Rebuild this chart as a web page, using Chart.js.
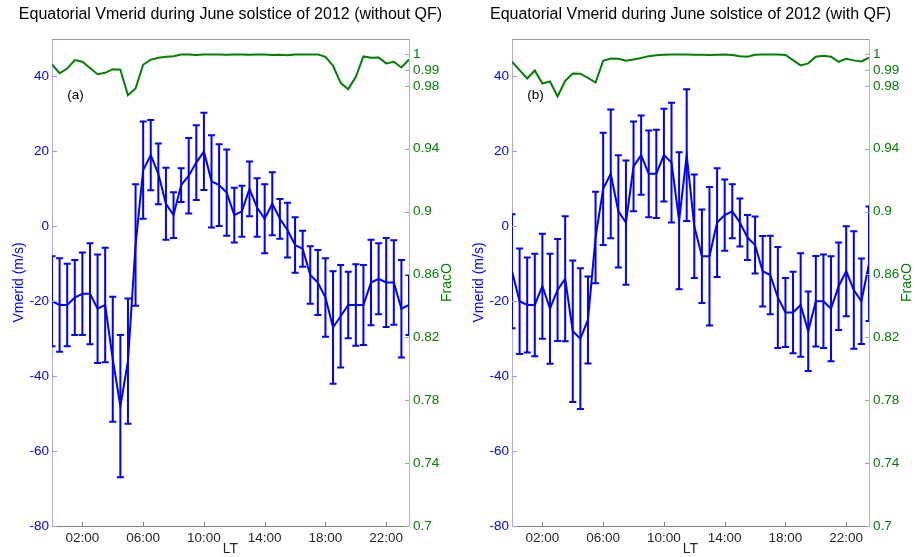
<!DOCTYPE html>
<html>
<head>
<meta charset="utf-8">
<script src="https://cdn.jsdelivr.net/npm/chart.js@4.4.0/dist/chart.umd.min.js"></script>
<style>
  html, body { margin: 0; padding: 0; background: #fff; }
  #wrap { position: relative; width: 915px; height: 557px; overflow: hidden; }
  canvas { position: absolute; top: 0; }
  #panelA { left: 0; }
  #panelB { left: 457px; }
</style>
</head>
<body>
<div id="wrap">
  <canvas id="panelA" width="457" height="557"></canvas>
  <canvas id="panelB" width="458" height="557"></canvas>
</div>
<script>
// Local time of each half-hourly bin (hours)
const LT = [0, 0.5, 1, 1.5, 2, 2.5, 3, 3.5, 4, 4.5, 5, 5.5,
            6, 6.5, 7, 7.5, 8, 8.5, 9, 9.5, 10, 10.5, 11, 11.5,
            12, 12.5, 13, 13.5, 14, 14.5, 15, 15.5, 16, 16.5, 17, 17.5,
            18, 18.5, 19, 19.5, 20, 20.5, 21, 21.5, 22, 22.5, 23, 23.5];

// Meridional wind (m/s) and its standard deviation, without QF filtering
const VMERID_NOQF = [-20, -21, -21, -19, -18, -18, -22, -21, -35.5, -48, -36, -5,
                     15, 19, 14, 6, 3, 11, 13.5, 17, 20, 12, 11, 9,
                     3, 4, 10, 5, 2, 6, 2, -1, -5, -6, -13, -15,
                     -19, -27, -24, -21, -21, -21, -15, -14, -15, -15, -22, -21];
const ERR_NOQF = [12, 12.5, 11, 10, 11, 13.5, 14.5, 15.3, 16.7, 19, 16.7, 16.2,
                  13, 9.4, 8.1, 9.6, 6.1, 4.5, 10.1, 10, 10.3, 12.3, 10.9, 11.5,
                  7.3, 6.8, 7.3, 7.8, 9.2, 8.4, 5.3, 7.3, 7.4, 4.8, 7.7, 8.7,
                  10.5, 15, 13.7, 8.9, 10.9, 10.7, 11.4, 9.5, 11.9, 11.3, 13, 8];
// Oxygen ion fraction, without QF filtering
const FRACO_NOQF = [0.9936, 0.988, 0.991, 0.9964, 0.9953, 0.9913, 0.9874, 0.9883, 0.9906, 0.9902, 0.974, 0.9783,
                    0.9934, 0.9966, 0.9979, 0.9985, 0.9989, 1.0, 1.0, 0.9996, 1.0, 1.0, 1.0, 0.9998,
                    1.0, 1.0, 0.9998, 1.0, 1.0, 0.9996, 0.9998, 0.9994, 1.0, 1.0, 1.0, 1.0,
                    0.9985, 0.9928, 0.9819, 0.9779, 0.9857, 0.9987, 0.9979, 0.9981, 0.9943, 0.9953, 0.9917, 0.9968];

// Same quantities with QF filtering
const VMERID_QF = [-12, -20, -21, -21, -16, -22, -17, -14, -28, -30, -25, -3,
                   10, 14, 4, 1, 16, 19, 14, 14, 19, 17, 1.5, 19,
                   0, -8, -8, 1, 3, 4, 1, -3, -5, -12, -13, -19,
                   -23, -23, -21, -28, -20, -20, -22, -16, -12, -17, -20, -10];
const ERR_QF = [15.2, 14.1, 12.7, 13.7, 14, 14.7, 13.6, 16.7, 18.9, 18.8, 11.6, 12.2,
                15, 17.2, 15, 16.6, 12, 10.6, 11.6, 11.8, 12.4, 16, 18.3, 17.6,
                13.8, 12.5, 18.5, 14.5, 9.5, 7.2, 6.4, 6, 7.6, 9.4, 10.5, 13.5,
                9.2, 10.9, 13.8, 10.6, 12.1, 12.5, 14, 11.7, 12, 15.7, 11.4, 15.3];
const FRACO_QF = [0.9953, 0.99, 0.9847, 0.9898, 0.9815, 0.9828, 0.9732, 0.9832, 0.9879, 0.9877, 0.9851, 0.9821,
                  0.996, 0.9974, 0.9972, 0.996, 0.9968, 0.9977, 0.9989, 0.9994, 0.9998, 1.0, 1.0, 1.0,
                  0.9998, 0.9998, 0.9996, 0.9998, 1.0, 0.9996, 0.9989, 0.9985, 0.9998, 1.0, 1.0, 1.0,
                  0.9996, 0.9964, 0.993, 0.9943, 0.9985, 0.9991, 0.9985, 0.9953, 0.9972, 0.9962, 0.9955, 0.9979];

// Axis ticks
const LT_TICKS = [2, 6, 10, 14, 18, 22];
const VMERID_TICKS = [-80, -60, -40, -20, 0, 20, 40];
const FRACO_TICKS = [0.7, 0.74, 0.78, 0.82, 0.86, 0.9, 0.94, 0.98, 0.99, 1];

const FONT = '"Liberation Sans", Arial, Helvetica, sans-serif';
const BLUE = '#0000ff';
const GREEN = '#008000';

// Error bars, inward tick marks, box top edge and all free text of a panel
function panelDecor(values, errors, title, tag) {
  return {
    id: 'panelDecor',
    afterDatasetsDraw(chart) {
      const { ctx, chartArea: a, scales: { x, y } } = chart;
      ctx.save();
      ctx.beginPath();
      ctx.rect(a.left, a.top, a.right - a.left, a.bottom - a.top);
      ctx.clip();
      ctx.strokeStyle = BLUE;
      ctx.lineWidth = 2;
      values.forEach((v, i) => {
        const px = x.getPixelForValue(LT[i]);
        const hi = y.getPixelForValue(v + errors[i]);
        const lo = y.getPixelForValue(v - errors[i]);
        ctx.beginPath();
        ctx.moveTo(px, hi); ctx.lineTo(px, lo);
        ctx.moveTo(px - 3.5, hi); ctx.lineTo(px + 3.5, hi);
        ctx.moveTo(px - 3.5, lo); ctx.lineTo(px + 3.5, lo);
        ctx.stroke();
      });
      ctx.restore();
    },
    afterDraw(chart) {
      const { ctx, chartArea: a, scales: { x, y, y1 } } = chart;
      ctx.save();
      ctx.lineWidth = 1;
      // top edge of the box
      ctx.strokeStyle = '#9a9a9a';
      ctx.beginPath();
      ctx.moveTo(a.left, a.top + 0.5); ctx.lineTo(a.right, a.top + 0.5);
      ctx.stroke();
      // inward ticks
      ctx.strokeStyle = '#808080';
      ctx.beginPath();
      LT_TICKS.forEach(t => {
        const px = Math.round(x.getPixelForValue(t)) + 0.5;
        ctx.moveTo(px, a.bottom); ctx.lineTo(px, a.bottom - 4);
      });
      ctx.stroke();
      ctx.strokeStyle = '#9c9cff';
      ctx.beginPath();
      VMERID_TICKS.forEach(v => {
        const py = Math.round(y.getPixelForValue(v)) + 0.5;
        ctx.moveTo(a.left, py); ctx.lineTo(a.left + 5, py);
      });
      ctx.stroke();
      ctx.strokeStyle = '#7fbf7f';
      ctx.beginPath();
      FRACO_TICKS.forEach(v => {
        const py = Math.round(y1.getPixelForValue(v)) + 0.5;
        ctx.moveTo(a.right - 4, py); ctx.lineTo(a.right, py);
      });
      ctx.stroke();

      // title
      const cx = (a.left + a.right) / 2;
      ctx.textAlign = 'center';
      ctx.textBaseline = 'middle';
      ctx.fillStyle = '#000';
      ctx.font = '16px ' + FONT;
      ctx.fillText(title, cx, 14.5);
      // x axis label
      ctx.fillStyle = '#262626';
      ctx.font = '14px ' + FONT;
      ctx.fillText('LT', cx, 549);
      // panel tag
      ctx.textAlign = 'left';
      ctx.fillStyle = '#000';
      ctx.font = '13.5px ' + FONT;
      ctx.fillText(tag, x.getPixelForValue(1), y.getPixelForValue(35));
      // y axis labels (both read bottom to top)
      const cy = (a.top + a.bottom) / 2;
      ctx.textAlign = 'center';
      ctx.font = '14px ' + FONT;
      ctx.save();
      ctx.translate(a.left - 33, cy);
      ctx.rotate(-Math.PI / 2);
      ctx.fillStyle = BLUE;
      ctx.fillText('Vmerid (m/s)', 0, 0);
      ctx.restore();
      ctx.save();
      ctx.translate(a.right + 38, cy);
      ctx.rotate(-Math.PI / 2);
      ctx.fillStyle = GREEN;
      ctx.fillText('FracO', 0, 0);
      ctx.restore();
      ctx.restore();
    }
  };
}

function fmtHour(v) {
  return String(v).padStart(2, '0') + ':00';
}
function fmtFrac(v) {
  return String(Math.round(v * 100) / 100);
}

function buildPanel(canvasId, leftW, rightW, values, errors, frac, title, tag) {
  return new Chart(document.getElementById(canvasId), {
    type: 'line',
    data: {
      datasets: [
        {
          data: LT.map((t, i) => ({ x: t, y: values[i] })),
          yAxisID: 'y',
          borderColor: BLUE,
          borderWidth: 2,
          pointRadius: 0,
          tension: 0,
          fill: false
        },
        {
          data: LT.map((t, i) => ({ x: t, y: frac[i] })),
          yAxisID: 'y1',
          borderColor: GREEN,
          borderWidth: 2,
          pointRadius: 0,
          tension: 0,
          fill: false
        }
      ]
    },
    options: {
      responsive: false,
      animation: false,
      events: [],
      layout: { padding: { top: 39, left: 0, right: 0, bottom: 0 } },
      plugins: { legend: { display: false }, tooltip: { enabled: false }, title: { display: false } },
      scales: {
        x: {
          type: 'linear',
          min: 0,
          max: 23.5,
          afterBuildTicks: s => { s.ticks = LT_TICKS.map(v => ({ value: v })); },
          afterFit: s => { s.height = 31; },
          grid: { drawOnChartArea: false, drawTicks: false },
          border: { color: '#808080', width: 1 },
          ticks: {
            autoSkip: false, maxRotation: 0, padding: 4, color: '#262626',
            font: { size: 13.5, family: FONT }, callback: v => fmtHour(v)
          }
        },
        y: {
          type: 'linear',
          position: 'left',
          min: -80,
          max: 50,
          afterBuildTicks: s => { s.ticks = VMERID_TICKS.map(v => ({ value: v })); },
          afterFit: s => { s.width = leftW; },
          grid: { drawOnChartArea: false, drawTicks: false },
          border: { color: '#aaaaff', width: 1 },
          ticks: { autoSkip: false, padding: 3, color: BLUE, font: { size: 13.5, family: FONT } }
        },
        y1: {
          type: 'linear',
          position: 'right',
          min: 0.7,
          max: 1.0098,
          afterBuildTicks: s => { s.ticks = FRACO_TICKS.map(v => ({ value: v })); },
          afterFit: s => { s.width = rightW; },
          grid: { drawOnChartArea: false, drawTicks: false },
          border: { color: '#99cc99', width: 1 },
          ticks: {
            autoSkip: false, padding: 4, color: GREEN,
            font: { size: 13.5, family: FONT }, callback: v => fmtFrac(v)
          }
        }
      }
    },
    plugins: [panelDecor(values, errors, title, tag)]
  });
}

buildPanel('panelA', 52, 48, VMERID_NOQF, ERR_NOQF, FRACO_NOQF,
  'Equatorial Vmerid during June solstice of 2012 (without QF)', '(a)');
buildPanel('panelB', 55, 46, VMERID_QF, ERR_QF, FRACO_QF,
  'Equatorial Vmerid during June solstice of 2012 (with QF)', '(b)');
</script>
</body>
</html>
